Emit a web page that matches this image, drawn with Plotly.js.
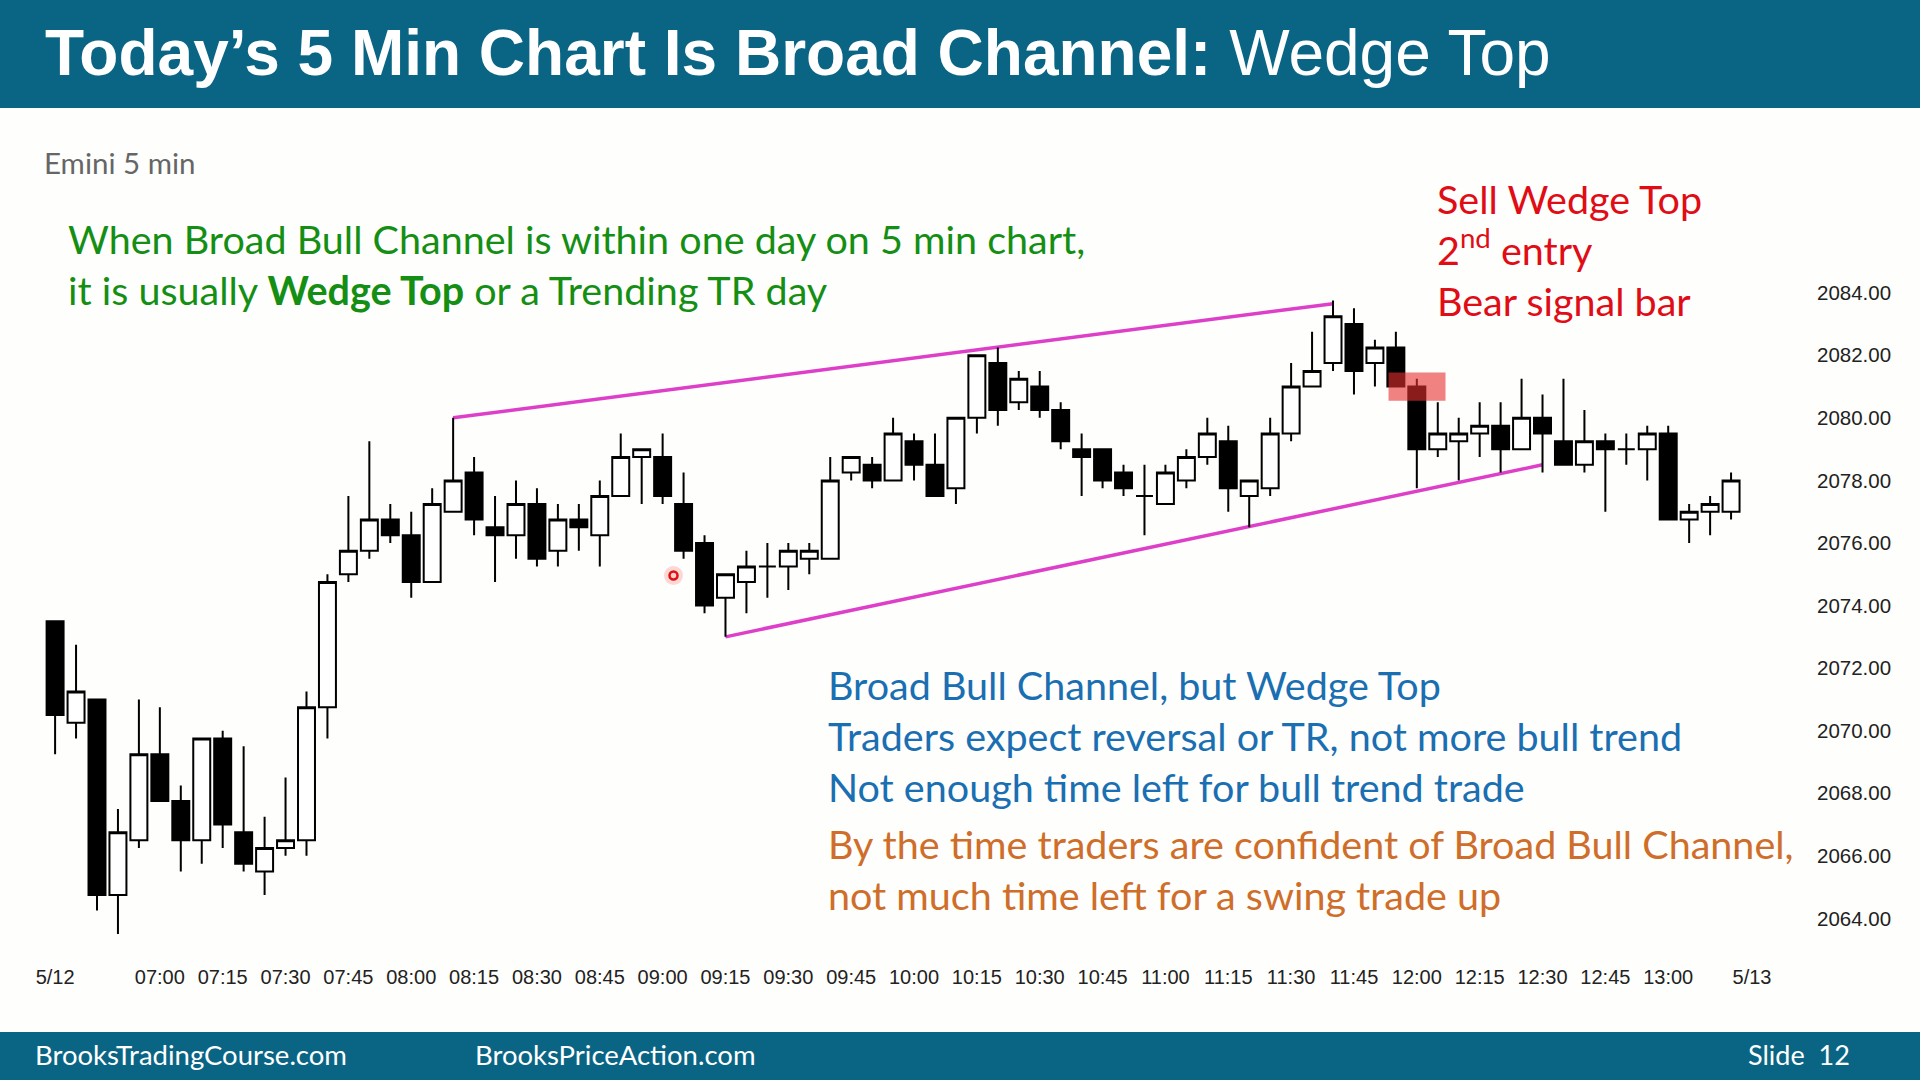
<!DOCTYPE html>
<html><head><meta charset="utf-8">
<script src="https://cdn.plot.ly/plotly-3.0.1.min.js"></script>
<style>html,body{margin:0;padding:0;background:#fff;} #chart{width:1920px;height:1080px;}</style>
</head><body><div id="chart"></div>
<script>
const day = "2015-05-12";
const times = [
 "06:35","06:40","06:45","06:50","06:55",
 "07:00","07:05","07:10","07:15","07:20","07:25","07:30","07:35","07:40","07:45","07:50","07:55",
 "08:00","08:05","08:10","08:15","08:20","08:25","08:30","08:35","08:40","08:45","08:50","08:55",
 "09:00","09:05","09:10","09:15","09:20","09:25","09:30","09:35","09:40","09:45","09:50","09:55",
 "10:00","10:05","10:10","10:15","10:20","10:25","10:30","10:35","10:40","10:45","10:50","10:55",
 "11:00","11:05","11:10","11:15","11:20","11:25","11:30","11:35","11:40","11:45","11:50","11:55",
 "12:00","12:05","12:10","12:15","12:20","12:25","12:30","12:35","12:40","12:45","12:50","12:55",
 "13:00","13:05","13:10","13:15"
];
const open = [
 2073.5,2070.25,2071.0,2064.75,2066.5,2069.25,2067.75,2066.5,2069.75,2066.75,
 2065.5,2066.25,2066.5,2070.75,2075.0,2075.75,2076.75,2076.25,2074.75,2077.0,
 2078.25,2076.5,2076.25,2077.25,2075.75,2076.75,2076.25,2077.5,2078.75,2078.75,
 2077.25,2076.0,2074.25,2074.75,2075.25,2075.25,2075.5,2075.5,2078.25,2078.5,
 2078.0,2079.25,2078.5,2077.75,2080.0,2081.75,2080.5,2081.0,2080.25,2079.0,
 2079.0,2078.25,2077.5,2077.25,2078.0,2078.75,2079.25,2077.5,2077.75,2079.5,
 2081.0,2081.75,2083.0,2081.75,2082.25,2081.0,2079.0,2079.25,2079.5,2079.75,
 2079.0,2080.0,2079.25,2078.5,2079.25,2079.0,2079.0,2079.5,2076.75,2077.0,
 2077.0
];
const high = [
 2073.5,2072.75,2071.0,2067.5,2071.0,2070.75,2068.25,2069.75,2070.0,2069.5,
 2067.25,2068.5,2071.25,2075.0,2077.5,2079.25,2077.25,2077.0,2077.75,2080.0,
 2078.75,2077.5,2078.0,2077.75,2077.25,2077.25,2078.0,2079.5,2079.0,2079.5,
 2078.25,2076.25,2075.0,2075.75,2076.0,2076.0,2076.0,2078.75,2078.75,2078.75,
 2080.0,2079.5,2079.5,2080.0,2082.0,2082.25,2081.5,2081.5,2080.5,2079.5,
 2079.0,2078.5,2078.5,2078.5,2079.0,2080.0,2079.75,2078.0,2080.0,2081.75,
 2082.75,2083.75,2083.5,2082.5,2082.75,2081.25,2080.5,2080.0,2080.5,2080.5,
 2081.25,2080.75,2081.25,2080.25,2079.5,2079.5,2079.75,2079.75,2077.25,2077.5,
 2078.25
];
const low = [
 2069.25,2069.75,2064.25,2063.5,2066.25,2067.75,2065.5,2065.75,2066.25,2065.5,
 2064.75,2066.0,2066.0,2069.75,2074.75,2075.5,2076.0,2074.25,2074.75,2077.0,
 2076.25,2074.75,2075.5,2075.25,2075.25,2075.75,2075.25,2077.5,2077.25,2077.25,
 2075.5,2073.75,2073.0,2073.75,2074.25,2074.5,2075.0,2075.5,2078.0,2077.75,
 2078.0,2078.0,2077.5,2077.25,2079.5,2079.75,2080.25,2080.0,2079.0,2077.5,
 2077.75,2077.5,2076.25,2077.25,2077.75,2078.5,2077.0,2076.5,2077.5,2079.25,
 2081.0,2081.5,2080.75,2081.0,2081.0,2077.75,2078.75,2078.0,2078.75,2078.25,
 2079.0,2078.25,2078.5,2078.25,2077.0,2078.5,2078.0,2076.75,2076.0,2076.25,
 2076.75
];
const close = [
 2070.5,2071.25,2064.75,2066.75,2069.25,2067.75,2066.5,2069.75,2067.0,2065.75,
 2066.25,2066.5,2070.75,2074.75,2075.75,2076.75,2076.25,2074.75,2077.25,2078.0,
 2076.75,2076.25,2077.25,2075.5,2076.75,2076.5,2077.5,2078.75,2079.0,2077.5,
 2075.75,2074.0,2075.0,2075.25,2075.25,2075.75,2075.75,2078.0,2078.75,2078.0,
 2079.5,2078.5,2077.5,2080.0,2082.0,2080.25,2081.25,2080.25,2079.25,2078.75,
 2078.0,2077.75,2077.5,2078.25,2078.75,2079.5,2077.75,2078.0,2079.5,2081.0,
 2081.5,2083.25,2081.5,2082.25,2081.0,2079.0,2079.5,2079.5,2079.75,2079.0,
 2080.0,2079.5,2078.5,2079.25,2079.0,2079.0,2079.5,2076.75,2077.0,2077.25,
 2078.0
];
const tickTimes = ["06:35","07:00","07:15","07:30","07:45","08:00","08:15","08:30","08:45","09:00","09:15","09:30","09:45",
 "10:00","10:15","10:30","10:45","11:00","11:15","11:30","11:45","12:00","12:15","12:30","12:45","13:00","13:20"];
const tickLabels = ["5/12","07:00","07:15","07:30","07:45","08:00","08:15","08:30","08:45","09:00","09:15","09:30","09:45",
 "10:00","10:15","10:30","10:45","11:00","11:15","11:30","11:45","12:00","12:15","12:30","12:45","13:00","5/13"];
const priceTicks = [2064,2066,2068,2070,2072,2074,2076,2078,2080,2082,2084];
const upperWedgeTimes = ["08:10","11:40"];
const upperWedgePrices = [2080.0, 2083.65];
const lowerWedgeTimes = ["09:15","12:30"];
const lowerWedgePrices = [2073.0, 2078.5];
const signalBoxTimes = ["11:53:15","12:06:51"];
const signalBoxPrices = [2080.55, 2081.45];

const T = t => day + " " + (t.length === 5 ? t + ":00" : t);

// pixel -> paper helpers (plot area: x 30..1810, y 110..950)
const PL = 30, PR = 1810, PT = 110, PB = 950;
const px = x => (x - PL) / (PR - PL);
const py = y => (PB - y) / (PB - PT);

const trace = {
  type: "candlestick",
  x: times.map(T), open: open, high: high, low: low, close: close,
  increasing: {line: {color: "#000", width: 2}, fillcolor: "#ffffff"},
  decreasing: {line: {color: "#000", width: 2}, fillcolor: "#000000"},
  whiskerwidth: 0, hoverinfo: "skip", showlegend: false
};

const bodyFont = "Lato, 'Noto Sans', sans-serif";
function note(text, x, y, color, size, anchor) {
  return {text: text, xref: "paper", yref: "paper", x: px(x), y: py(y),
    xanchor: anchor || "left", yanchor: "middle", showarrow: false,
    font: {family: bodyFont, size: size, color: color}};
}
const green = "#148F14", red = "#E00C16", blue = "#1A6FB2", orange = "#CF6E2A";
const S = 39.5;
const annotations = [
  {text: "<b>Today’s 5 Min Chart Is Broad Channel:</b> Wedge Top", xref: "paper", yref: "paper",
   x: px(43), y: py(53), xanchor: "left", yanchor: "middle", showarrow: false,
   font: {family: "'Liberation Sans', Arial, sans-serif", size: 64, color: "#ffffff"}},
  note("BrooksTradingCourse.com", 33, 1054, "#ffffff", 27.5),
  note("BrooksPriceAction.com", 473, 1054, "#ffffff", 27.5),
  note("Slide&nbsp;&nbsp;12", 1852, 1054, "#ffffff", 27, "right"),
  note("Emini 5 min", 42, 162, "#666666", 29.5),
  note("When Broad Bull Channel is within one day on 5 min chart,", 66, 238, green, S),
  note("it is usually <b>Wedge Top</b> or a Trending TR day", 66, 289, green, S),
  note("Sell Wedge Top", 1435, 199, red, S),
  note("2<sup>nd</sup> entry", 1435, 247, red, S),
  note("Bear signal bar", 1435, 300, red, S),
  note("Broad Bull Channel, but Wedge Top", 826, 684.5, blue, S),
  note("Traders expect reversal or TR, not more bull trend", 826, 735.5, blue, S),
  note("Not enough time left for bull trend trade", 826, 786.5, blue, S),
  note("By the time traders are confident of Broad Bull Channel,", 826, 843.5, orange, S),
  note("not much time left for a swing trade up", 826, 894.5, orange, S)
];

const magenta = "#DE3FC9";
const shapes = [
  {type: "rect", xref: "paper", yref: "paper", x0: px(0), x1: px(1920), y0: py(0), y1: py(108),
   fillcolor: "#0A6585", line: {width: 0}, layer: "below"},
  {type: "rect", xref: "paper", yref: "paper", x0: px(0), x1: px(1920), y0: py(1032), y1: py(1080),
   fillcolor: "#0A6585", line: {width: 0}, layer: "below"},
  {type: "line", xref: "x", yref: "y", x0: T(upperWedgeTimes[0]), x1: T(upperWedgeTimes[1]),
   y0: upperWedgePrices[0], y1: upperWedgePrices[1], line: {color: magenta, width: 3.5}, layer: "below"},
  {type: "line", xref: "x", yref: "y", x0: T(lowerWedgeTimes[0]), x1: T(lowerWedgeTimes[1]),
   y0: lowerWedgePrices[0], y1: lowerWedgePrices[1], line: {color: magenta, width: 3.5}, layer: "below"},
  {type: "rect", xref: "x", yref: "y", x0: T(signalBoxTimes[0]), x1: T(signalBoxTimes[1]),
   y0: signalBoxPrices[0], y1: signalBoxPrices[1], fillcolor: "rgba(230,47,47,0.6)", line: {width: 0}, layer: "above"},
  {type: "circle", xref: "paper", yref: "paper", x0: px(664), x1: px(683), y0: py(566), y1: py(585),
   fillcolor: "rgba(235,80,80,0.22)", line: {width: 0}, layer: "above"},
  {type: "circle", xref: "paper", yref: "paper", x0: px(669.5), x1: px(677.5), y0: py(571.5), y1: py(579.5),
   fillcolor: "#ffd0d0", line: {color: "#E01010", width: 2.5}, layer: "above"}
];

const layout = {
  width: 1920, height: 1080,
  paper_bgcolor: "#FEFEFC", plot_bgcolor: "#FEFEFC",
  margin: {l: PL, r: 1920 - PR, t: PT, b: 1080 - PB},
  boxgap: 0.1, boxgroupgap: 0.1,
  showlegend: false,
  xaxis: {type: "date", range: [T("06:29:00.6"), T("13:33:50.4")],
    rangeslider: {visible: false}, showgrid: false, zeroline: false, showline: false,
    tickvals: tickTimes.map(T), ticktext: tickLabels, ticks: "", ticklabelstandoff: 13,
    tickfont: {family: "'Liberation Sans', Arial, sans-serif", size: 20, color: "#222"}},
  yaxis: {range: [2062.99, 2089.84], side: "right", showgrid: false, zeroline: false, showline: false,
    tickvals: priceTicks, tickformat: ".2f", ticks: "", ticklabelstandoff: 6,
    tickfont: {family: "'Liberation Sans', Arial, sans-serif", size: 20.5, color: "#222"}},
  annotations: annotations, shapes: shapes
};
Plotly.newPlot("chart", [trace], layout, {displayModeBar: false, staticPlot: true});
</script></body></html>
